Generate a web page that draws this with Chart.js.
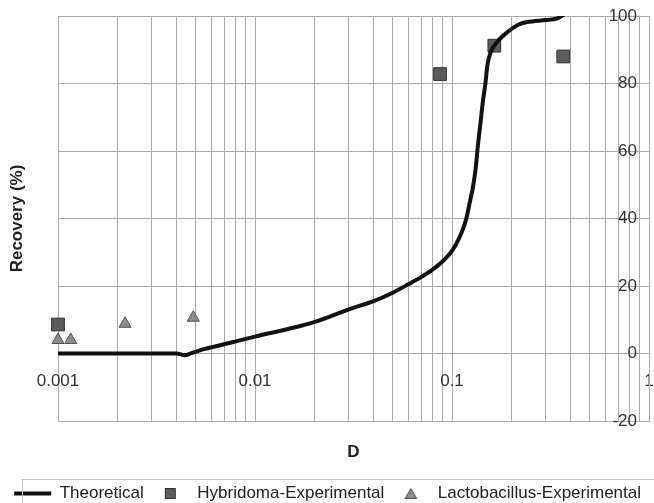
<!DOCTYPE html>
<html>
<head>
<meta charset="utf-8">
<script src="https://cdn.jsdelivr.net/npm/chart.js@4.4.0/dist/chart.umd.min.js"></script>
<style>
  html, body { margin: 0; padding: 0; background: #fff; }
</style>
</head>
<body>
<canvas id="chart" width="654" height="503"></canvas>
<script>
// Theoretical curve
const theoryD = [0.001, 0.002, 0.003, 0.004, 0.0044, 0.0048, 0.0055, 0.0065, 0.0075, 0.01,
  0.015, 0.02, 0.03, 0.04, 0.05, 0.06, 0.07, 0.08, 0.09, 0.1,
  0.11, 0.118, 0.123, 0.128, 0.132, 0.135, 0.139, 0.144, 0.148, 0.151,
  0.157, 0.169, 0.19, 0.217, 0.24, 0.3, 0.34, 0.37];
const theoryRecovery = [0, 0, 0, 0, -0.5, 0.2, 1.3, 2.3, 3.2, 5.0,
  7.4, 9.3, 13.1, 15.5, 18, 20.5, 22.7, 24.9, 27.4, 30.4,
  34.8, 39.8, 44.7, 49.6, 55, 61, 67.5, 75.4, 80.3, 85.2,
  89.2, 92.2, 95.1, 97.4, 98.2, 98.8, 99.2, 100.4];

// Experimental points
const hybridomaD = [0.001, 0.087, 0.164, 0.367];
const hybridomaRecovery = [8.6, 82.8, 91.2, 88.0];
const lactoD = [0.001, 0.00116, 0.00219, 0.00486];
const lactoRecovery = [4.0, 4.0, 8.8, 10.6];

// Axes
const xTickValues = [0.001, 0.01, 0.1, 1];
const xTickLabels = ['0.001', '0.01', '0.1', '1'];
const xMinorSteps = [1, 2, 3, 4, 5, 6, 7, 8, 9];
const yMin = -20, yMax = 100, yStep = 20;

const seriesNames = ['Theoretical', 'Hybridoma-Experimental', 'Lactobacillus-Experimental'];

function toPoints(xs, ys) {
    return xs.map((x, i) => ({ x: x, y: ys[i] }));
}

// small icons for the legend (squares/triangles must not be stretched)
function makeIcon(w, h, draw) {
    const c = document.createElement('canvas');
    c.width = w; c.height = h;
    draw(c.getContext('2d'));
    return c;
}
const squareIcon = makeIcon(13, 13, (g) => {
    g.fillStyle = '#5c5c5c';
    g.strokeStyle = '#333';
    g.lineWidth = 1;
    g.fillRect(1.5, 1.5, 10, 10);
    g.strokeRect(1.5, 1.5, 10, 10);
});
const triangleIcon = makeIcon(14, 13, (g) => {
    g.fillStyle = '#8c8c8c';
    g.strokeStyle = '#555';
    g.lineWidth = 1;
    g.beginPath();
    g.moveTo(7, 1.5);
    g.lineTo(12.8, 11.5);
    g.lineTo(1.2, 11.5);
    g.closePath();
    g.fill();
    g.stroke();
});

const legendFrame = {
    id: 'legendFrame',
    afterDraw(chart) {
        const lg = chart.legend;
        const ctx = chart.ctx;
        ctx.save();
        ctx.strokeStyle = '#c4c4c4';
        ctx.lineWidth = 1;
        ctx.strokeRect(22.5, lg.top + 2.5, chart.width, lg.height + 20);
        ctx.restore();
    }
};

Chart.defaults.font.family = "'Liberation Sans', Arial, sans-serif";
Chart.defaults.font.size = 17;
Chart.defaults.color = '#222';

const gridColor = '#ababab';

new Chart(document.getElementById('chart'), {
    type: 'scatter',
    data: {
        datasets: [{
            label: seriesNames[0],
            data: toPoints(theoryD, theoryRecovery),
            showLine: true,
            borderColor: '#111',
            backgroundColor: '#111',
            borderWidth: 4,
            pointRadius: 0,
            cubicInterpolationMode: 'monotone',
            xAxisID: 'x',
            yAxisID: 'y'
        }, {
            label: seriesNames[1],
            data: toPoints(hybridomaD, hybridomaRecovery),
            pointStyle: 'rect',
            pointRadius: 9,
            backgroundColor: '#5c5c5c',
            borderColor: '#333',
            borderWidth: 1,
            clip: false,
            xAxisID: 'x',
            yAxisID: 'y'
        }, {
            label: seriesNames[2],
            data: toPoints(lactoD, lactoRecovery),
            pointStyle: 'triangle',
            pointRadius: 7,
            backgroundColor: '#8c8c8c',
            borderColor: '#555',
            borderWidth: 1,
            clip: false,
            xAxisID: 'x',
            yAxisID: 'y'
        }]
    },
    options: {
        responsive: false,
        animation: false,
        layout: { autoPadding: false, padding: { left: 0, right: 5, top: 16, bottom: -9 } },
        scales: {
            x: {
                type: 'logarithmic',
                min: 0.001,
                max: 1,
                position: { y: 0 },
                // invisible tick marks push the labels below the 0 line
                grid: { color: gridColor, drawTicks: true, tickLength: 18, tickColor: 'rgba(0,0,0,0)' },
                border: { color: gridColor },
                afterBuildTicks: (scale) => {
                    const ticks = [];
                    xTickValues.slice(0, -1).forEach(d => {
                        xMinorSteps.forEach(m => ticks.push({ value: +(d * m).toPrecision(3) }));
                    });
                    ticks.push({ value: xTickValues[xTickValues.length - 1] });
                    scale.ticks = ticks;
                },
                // the "1" label may run off the right edge, as in the original
                afterFit: (scale) => { scale.paddingLeft = 0; scale.paddingRight = 0; },
                ticks: {
                    autoSkip: false,
                    maxRotation: 0,
                    padding: 0,
                    color: '#333',
                    callback: (value) => {
                        const i = xTickValues.findIndex(v => Math.abs(Math.log10(v) - Math.log10(value)) < 1e-6);
                        return i >= 0 ? xTickLabels[i] : '';
                    }
                }
            },
            y: {
                type: 'linear',
                position: 'right',
                min: yMin,
                max: yMax,
                grid: { color: gridColor, drawTicks: false },
                border: { color: gridColor },
                afterFit: (scale) => { scale.width = 0; },
                ticks: { stepSize: yStep, mirror: true, padding: -12, color: '#333' }
            },
            yTitle: {
                type: 'linear',
                position: 'left',
                grid: { display: false, drawTicks: false },
                border: { display: false },
                ticks: { display: false },
                title: {
                    display: true,
                    text: 'Recovery (%)',
                    font: { weight: 'bold', size: 17 },
                    color: '#222',
                    padding: { top: 7, bottom: 30.6 }
                }
            },
            xTitle: {
                type: 'linear',
                position: 'bottom',
                grid: { display: false, drawTicks: false },
                border: { display: false },
                ticks: { display: false },
                title: {
                    display: true,
                    text: 'D',
                    font: { weight: 'bold', size: 17 },
                    color: '#222',
                    padding: { top: 20.8, bottom: 14.8 }
                }
            }
        },
        plugins: {
            tooltip: { enabled: false },
            legend: {
                position: 'bottom',
                align: 'end',
                labels: {
                    usePointStyle: true,
                    pointStyleWidth: 37,
                    padding: 8,
                    color: '#222',
                    generateLabels: (chart) => {
                        const items = Chart.defaults.plugins.legend.labels.generateLabels(chart);
                        items[0].pointStyle = 'line';
                        items[0].lineWidth = 4;
                        items[0].strokeStyle = '#111';
                        items[1].pointStyle = squareIcon;
                        items[2].pointStyle = triangleIcon;
                        return items;
                    }
                }
            }
        }
    },
    plugins: [legendFrame]
});
</script>
</body>
</html>
